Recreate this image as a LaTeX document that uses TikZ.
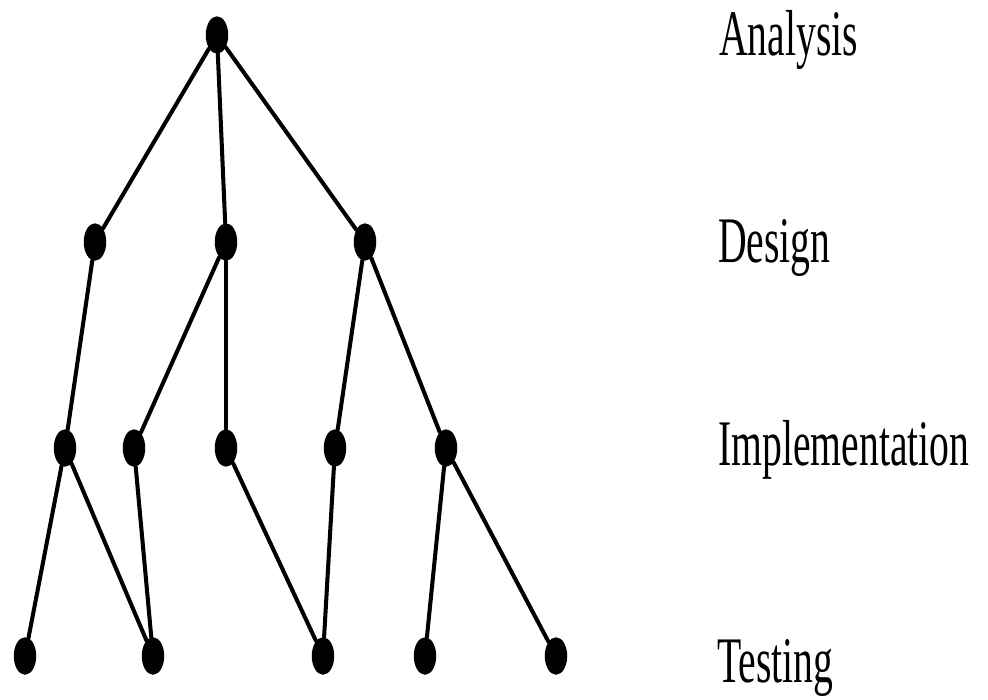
\documentclass[tikz,border=0pt]{standalone}
\usepackage{fontspec}
\setmainfont{Liberation Serif}
\usetikzlibrary{shapes.geometric}
\tikzset{
	dot/.style={ellipse,fill=black,inner sep=0pt,minimum width=0.45cm,minimum height=0.75cm},
	stage/.style={anchor=base west,inner sep=0pt,xscale=0.61,transform shape,font=\fontsize{37}{40}\selectfont},
	link/.style={line width=2.3pt}
}

\begin{document}
\begin{tikzpicture}[line cap=round,line join=round,x=0.02cm,y=-0.02cm]
		\useasboundingbox (0,0) rectangle (988,700);
		% analysis
		\node[dot] (a) at (217,35) {};
		% design
		\node[dot] (d1) at (95,242) {};
		\node[dot] (d2) at (226,242) {};
		\node[dot] (d3) at (365,242) {};
		% implementation
		\node[dot] (i1) at (65,448) {};
		\node[dot] (i2) at (134,448) {};
		\node[dot] (i3) at (226,448) {};
		\node[dot] (i4) at (335,448) {};
		\node[dot] (i5) at (446,448) {};
		% testing
		\node[dot] (t1) at (25,656) {};
		\node[dot] (t2) at (153,656) {};
		\node[dot] (t3) at (323,656) {};
		\node[dot] (t4) at (425,656) {};
		\node[dot] (t5) at (556,656) {};
		\draw [link] (a)--(d1);
		\draw [link] (a)--(d2);
		\draw [link] (a)--(d3);
		\draw [link] (d1)--(i1);
		\draw [link] (d2)--(i2);
		\draw [link] (d2)--(i3);
		\draw [link] (d3)--(i4);
		\draw [link] (d3)--(i5);
		\draw [link] (i1)--(t1);
		\draw [link] (i1)--(t2);
		\draw [link] (i2)--(t2);
		\draw [link] (i3)--(t3);
		\draw [link] (i4)--(t3);
		\draw [link] (i5)--(t4);
		\draw [link] (i5)--(t5);
		\node[stage] (la) at (719,55) {Analysis};
		\node[stage] (ld) at (718,262) {Design};
		\node[stage] (li) at (718,465) {Implementation};
		\node[stage] (lt) at (717,682) {Testing};
	\end{tikzpicture}
\end{document}
